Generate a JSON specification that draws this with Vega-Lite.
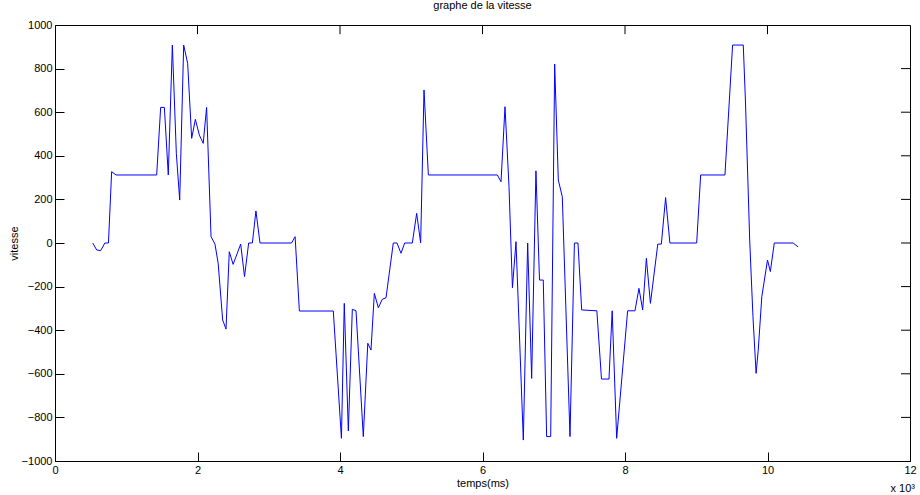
{
  "$schema": "https://vega.github.io/schema/vega-lite/v6.json",
  "width": 855,
  "height": 436,
  "autosize": {"type": "none"},
  "padding": {"left": 55, "top": 25, "right": 10, "bottom": 34},
  "background": "white",
  "config": {
    "view": {"stroke": "black", "strokeWidth": 1},
    "font": "Liberation Sans Narrow, Liberation Sans",
    "axis": {
      "domainColor": "black",
      "tickColor": "black",
      "labelColor": "black",
      "titleColor": "black",
      "labelFont": "Liberation Sans Narrow, Liberation Sans",
      "titleFont": "Liberation Sans Narrow, Liberation Sans",
      "labelFontSize": 11,
      "titleFontSize": 11,
      "titleFontWeight": "normal",
      "grid": false,
      "tickSize": -9
    }
  },
  "title": {
    "text": "graphe de la vitesse",
    "font": "Liberation Sans Narrow, Liberation Sans",
    "fontSize": 11,
    "fontWeight": "normal",
    "color": "black",
    "offset": 8
  },
  "data": {
    "values": [
      {"t": 530, "v": 0},
      {"t": 585, "v": -32},
      {"t": 641, "v": -35},
      {"t": 700, "v": 0},
      {"t": 750, "v": 0},
      {"t": 795, "v": 327},
      {"t": 856, "v": 312},
      {"t": 1427, "v": 312},
      {"t": 1483, "v": 622},
      {"t": 1535, "v": 622},
      {"t": 1590, "v": 312},
      {"t": 1647, "v": 908},
      {"t": 1703, "v": 411},
      {"t": 1750, "v": 197},
      {"t": 1806, "v": 908},
      {"t": 1862, "v": 824},
      {"t": 1918, "v": 480},
      {"t": 1970, "v": 567},
      {"t": 2026, "v": 495},
      {"t": 2080, "v": 457},
      {"t": 2128, "v": 622},
      {"t": 2190, "v": 29},
      {"t": 2245, "v": -5},
      {"t": 2290, "v": -93},
      {"t": 2353, "v": -353},
      {"t": 2400, "v": -395},
      {"t": 2446, "v": -40},
      {"t": 2500, "v": -98},
      {"t": 2606, "v": -5},
      {"t": 2660, "v": -154},
      {"t": 2718, "v": 0},
      {"t": 2770, "v": 0},
      {"t": 2820, "v": 147},
      {"t": 2877, "v": 0},
      {"t": 3320, "v": 0},
      {"t": 3370, "v": 29},
      {"t": 3430, "v": -312},
      {"t": 3906, "v": -312},
      {"t": 4020, "v": -896},
      {"t": 4060, "v": -277},
      {"t": 4117, "v": -862},
      {"t": 4173, "v": -304},
      {"t": 4225, "v": -311},
      {"t": 4327, "v": -888},
      {"t": 4390, "v": -460},
      {"t": 4435, "v": -491},
      {"t": 4482, "v": -231},
      {"t": 4538, "v": -297},
      {"t": 4594, "v": -258},
      {"t": 4646, "v": -251},
      {"t": 4748, "v": 0},
      {"t": 4800, "v": 0},
      {"t": 4856, "v": -47},
      {"t": 4908, "v": 0},
      {"t": 5015, "v": 0},
      {"t": 5076, "v": 136},
      {"t": 5132, "v": 1},
      {"t": 5179, "v": 702},
      {"t": 5240, "v": 312},
      {"t": 6208, "v": 312},
      {"t": 6260, "v": 281},
      {"t": 6316, "v": 625},
      {"t": 6372, "v": 258},
      {"t": 6420, "v": -205},
      {"t": 6470, "v": 6},
      {"t": 6573, "v": -904},
      {"t": 6634, "v": 0},
      {"t": 6690, "v": -621},
      {"t": 6750, "v": 331},
      {"t": 6800, "v": -170},
      {"t": 6853, "v": -170},
      {"t": 6900, "v": -888},
      {"t": 6957, "v": -888},
      {"t": 7013, "v": 821},
      {"t": 7064, "v": 289},
      {"t": 7120, "v": 212},
      {"t": 7228, "v": -888},
      {"t": 7290, "v": 0},
      {"t": 7340, "v": 0},
      {"t": 7392, "v": -307},
      {"t": 7605, "v": -311},
      {"t": 7670, "v": -624},
      {"t": 7775, "v": -624},
      {"t": 7820, "v": -311},
      {"t": 7883, "v": -896},
      {"t": 8037, "v": -311},
      {"t": 8140, "v": -311},
      {"t": 8196, "v": -208},
      {"t": 8248, "v": -307},
      {"t": 8300, "v": -70},
      {"t": 8357, "v": -277},
      {"t": 8460, "v": -5},
      {"t": 8510, "v": -5},
      {"t": 8570, "v": 208},
      {"t": 8630, "v": 0},
      {"t": 9006, "v": 0},
      {"t": 9062, "v": 312},
      {"t": 9403, "v": 312},
      {"t": 9510, "v": 908},
      {"t": 9660, "v": 908},
      {"t": 9690, "v": 656},
      {"t": 9750, "v": 14},
      {"t": 9796, "v": -338},
      {"t": 9840, "v": -598},
      {"t": 9870, "v": -491},
      {"t": 9920, "v": -246},
      {"t": 10000, "v": -78},
      {"t": 10040, "v": -131},
      {"t": 10095, "v": 0},
      {"t": 10360, "v": 0},
      {"t": 10430, "v": -18}
    ]
  },
  "layer": [
    {
      "mark": {"type": "line", "color": "#0000ff", "strokeWidth": 1, "interpolate": "linear"},
      "encoding": {
        "x": {
          "field": "t", "type": "quantitative",
          "scale": {"domain": [0, 12000], "nice": false, "zero": false},
          "axis": {
            "values": [0, 2000, 4000, 6000, 8000, 10000, 12000],
            "labelExpr": "datum.value / 1000",
            "title": "temps(ms)",
            "titlePadding": 2,
            "labelPadding": 12,
            "labelFlush": false,
            "labelOverlap": false
          }
        },
        "y": {
          "field": "v", "type": "quantitative",
          "scale": {"domain": [-1000, 1000], "nice": false, "zero": false},
          "axis": {
            "values": [-1000, -800, -600, -400, -200, 0, 200, 400, 600, 800, 1000],
            "format": "d",
            "title": "vitesse",
            "titlePadding": 2,
            "labelPadding": 12,
            "labelFlush": false,
            "labelOverlap": false
          }
        }
      }
    },
    {
      "data": {"values": [{"k": 2000}, {"k": 4000}, {"k": 6000}, {"k": 8000}, {"k": 10000}]},
      "mark": {"type": "rule", "color": "black", "strokeWidth": 1},
      "encoding": {
        "x": {"field": "k", "type": "quantitative", "axis": null},
        "y": {"datum": 1000, "type": "quantitative", "axis": null},
        "y2": {"datum": 958}
      }
    },
    {
      "data": {"values": [{"k": -800}, {"k": -600}, {"k": -400}, {"k": -200}, {"k": 0}, {"k": 200}, {"k": 400}, {"k": 600}, {"k": 800}]},
      "mark": {"type": "rule", "color": "black", "strokeWidth": 1},
      "encoding": {
        "y": {"field": "k", "type": "quantitative", "axis": null},
        "x": {"datum": 12000, "type": "quantitative", "axis": null},
        "x2": {"datum": 11874}
      }
    },
    {
      "data": {"values": [{"t": 12000, "v": -1000, "label": "x 10³"}]},
      "mark": {"type": "text", "align": "right", "baseline": "top", "dy": 22, "dx": 5, "fontSize": 11, "color": "black", "font": "Liberation Sans Narrow, Liberation Sans"},
      "encoding": {
        "x": {"field": "t", "type": "quantitative", "axis": null},
        "y": {"field": "v", "type": "quantitative", "axis": null},
        "text": {"field": "label"}
      }
    }
  ],
  "resolve": {"axis": {"x": "independent", "y": "independent"}}
}
